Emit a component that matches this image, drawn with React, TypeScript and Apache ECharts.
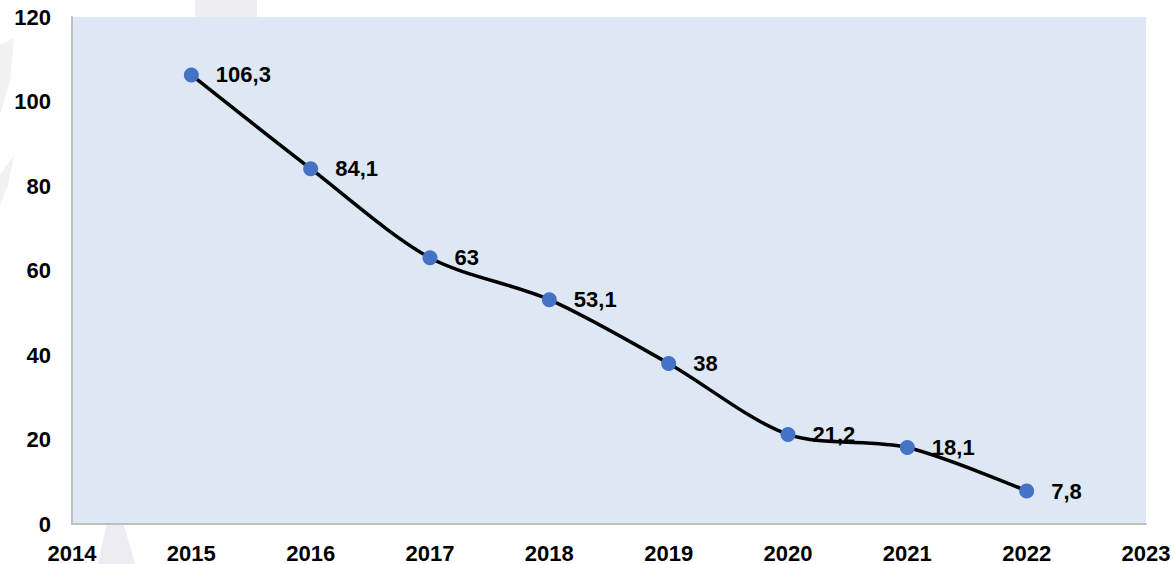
import React, { useEffect, useRef } from "react";
import * as echarts from "echarts";

const years = [2015, 2016, 2017, 2018, 2019, 2020, 2021, 2022];
const values = [106.3, 84.1, 63, 53.1, 38, 21.2, 18.1, 7.8];
const xMin = 2014;
const xMax = 2023;
const yMin = 0;
const yMax = 120;
const yStep = 20;

export default function App() {
  const ref = useRef<HTMLDivElement>(null);
  useEffect(() => {
    if (!ref.current) return;
    const chart = echarts.init(ref.current, null, { renderer: "svg" });
    const font = "'Liberation Sans', Arial, sans-serif";
    chart.setOption({
      animation: false,
      backgroundColor: "#ffffff",
      graphic: [
        { type: "polygon", silent: true, z: -10, shape: { points: [[0, 45], [14, 38], [10, 80], [0, 115]] }, style: { fill: "#f1f1f4" } },
        { type: "polygon", silent: true, z: -10, shape: { points: [[0, 175], [14, 155], [8, 185], [0, 205]] }, style: { fill: "#f1f1f4" } },
        { type: "polygon", silent: true, z: -10, shape: { points: [[114, 490], [135, 564], [98, 564]] }, style: { fill: "#ececf2" } },
        { type: "rect", silent: true, z: -10, shape: { x: 195, y: 0, width: 62, height: 17 }, style: { fill: "#eeeef2" } },
      ],
      grid: {
        left: 72,
        top: 17,
        right: 29,
        bottom: 40,
        show: true,
        backgroundColor: "#dde8f4",
        borderWidth: 0,
      },
      xAxis: {
        type: "value",
        min: xMin,
        max: xMax,
        interval: 1,
        axisLine: { show: true, onZero: false, lineStyle: { color: "#bfbfbf", width: 2 } },
        axisTick: { show: false },
        splitLine: { show: false },
        axisLabel: {
          color: "#000",
          fontWeight: "bold",
          fontSize: 22,
          fontFamily: font,
          margin: 18,
          showMinLabel: true,
          showMaxLabel: true,
          formatter: (v: number) => String(v),
        },
      },
      yAxis: {
        type: "value",
        min: yMin,
        max: yMax,
        interval: yStep,
        axisLine: { show: true, lineStyle: { color: "#bfbfbf", width: 2 } },
        axisTick: { show: false },
        splitLine: { show: false },
        axisLabel: {
          color: "#000",
          fontWeight: "bold",
          fontSize: 22,
          fontFamily: font,
          margin: 21,
        },
      },
      series: [
        {
          type: "line",
          data: years.map((y, i) => [y, values[i]]),
          smooth: 0.3,
          symbol: "circle",
          symbolSize: 15,
          itemStyle: { color: "#4472c4" },
          lineStyle: { color: "#000", width: 3.5 },
          label: {
            show: true,
            position: "right",
            distance: 17,
            color: "#000",
            fontWeight: "bold",
            fontSize: 22,
            fontFamily: font,
            formatter: (p: any) => String(p.value[1]).replace(".", ","),
          },
        },
      ],
    });
    return () => chart.dispose();
  }, []);
  return (
    <div
      ref={ref}
      style={{ position: "fixed", left: 0, top: 0, width: 1175, height: 564 }}
    />
  );
}
